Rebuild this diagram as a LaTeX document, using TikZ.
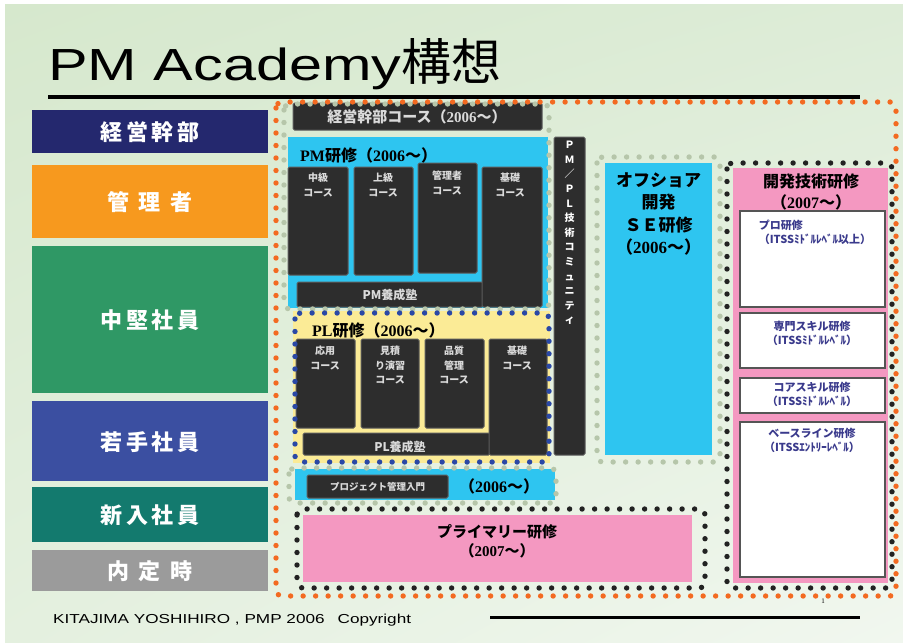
\documentclass[tikz,border=0pt]{standalone}
\usepackage{fontspec}
\usetikzlibrary{shadings}
\setmainfont{Liberation Serif}
\newfontfamily\cjk{Noto Sans CJK JP}
\newfontfamily\titlefont[FakeStretch=1.32]{Liberation Sans}
\newcommand\fsz[2]{\fontsize{#1}{#2}\selectfont}
\newcommand\since[1]{{\cjk （}{\rmfamily #1}{\cjk ～）}}

\definecolor{bgtl}{HTML}{D6E8CD}
\definecolor{bgtr}{HTML}{DDECD7}
\definecolor{bgbl}{HTML}{E4F0DF}
\definecolor{bgbr}{HTML}{F1F7EF}
\definecolor{rnavy}{HTML}{24286E}
\definecolor{rorange}{HTML}{F7991E}
\definecolor{rgreen}{HTML}{2F9865}
\definecolor{rblue}{HTML}{3B4FA1}
\definecolor{rteal}{HTML}{137A6E}
\definecolor{rgrey}{HTML}{9B9B9B}
\definecolor{coursedark}{HTML}{2D2D2D}
\definecolor{courseedge}{HTML}{5C5C5C}
\definecolor{coursetext}{HTML}{DADADA}
\definecolor{skyfill}{HTML}{2EC5F0}
\definecolor{lemonfill}{HTML}{FBEB96}
\definecolor{pinkfill}{HTML}{F498C1}
\definecolor{boxedge}{HTML}{555555}
\definecolor{itssblue}{HTML}{3A3A8C}
\definecolor{orangedot}{HTML}{F36A21}
\definecolor{greydot}{HTML}{B6C6AA}
\definecolor{bluedot}{HTML}{2A48A6}
\definecolor{blackdot}{HTML}{222222}

\begin{document}
\begin{tikzpicture}[x=1pt,y=-1pt,
    rank/.style={font=\cjk\bfseries\fsz{22}{26}, text=white},
    course/.style={fill=coursedark, draw=courseedge, line width=1pt, rounded corners=1.5pt},
    coursetxt/.style={font=\cjk\bfseries\fsz{10}{14.5}, text=coursetext, align=center, anchor=north, inner sep=0pt},
    heading/.style={font=\cjk\bfseries\fsz{16}{21}, align=center, inner sep=0pt},
    itss/.style={font=\cjk\bfseries\fsz{11}{14}, text=itssblue, align=center, inner sep=0pt},
    whitebox/.style={fill=white, draw=boxedge, line width=1.5pt},
    dotframe/.style={line width=5.4pt, line cap=round, dash pattern=on 0pt off 12.5pt, rounded corners=6pt}]
    \useasboundingbox (0,0) rectangle (903,643);
    \fill[white] (0,0) rectangle (903,643);
    \shade[upper left=bgtl, upper right=bgtr, lower left=bgbl, lower right=bgbr] (5,4) rectangle (903,643);

    % title and footer
    \node[anchor=base west, inner sep=0pt, font=\titlefont\fsz{45}{50}] (title) at (48,80)
        {PM Academy{\cjk\fsz{50}{55}構想}};
    \draw[line width=3.5pt] (48,97) -- (860,97);
    \node[anchor=base west, inner sep=0pt, font=\titlefont\fsz{13}{15}] (credit) at (53,623)
        {KITAJIMA YOSHIHIRO , PMP 2006\hspace{13pt}Copyright};
    \draw[line width=3pt] (490,617) -- (860,617);
    \node[font=\fsz{7}{8}] (page) at (823,601) {1};

    % ranks
    \fill[rnavy] (32,110) rectangle (268,153);
    \fill[rorange] (32,165) rectangle (268,238);
    \fill[rgreen] (32,246) rectangle (268,393);
    \fill[rblue] (32,401) rectangle (268,481);
    \fill[rteal] (32,487) rectangle (268,542);
    \fill[rgrey] (32,550) rectangle (268,591);
    \node[rank] (exec) at (150,132) {経\,営\,幹\,部};
    \node[rank] (mgr) at (150,202) {管\hspace{0.45em}理\hspace{0.45em}者};
    \node[rank] (mid) at (150,320) {中\,堅\,社\,員};
    \node[rank] (young) at (150,442) {若\,手\,社\,員};
    \node[rank] (fresh) at (150,515) {新\,入\,社\,員};
    \node[rank] (offer) at (150,571) {内\hspace{0.45em}定\hspace{0.45em}時};

    % coloured areas
    \fill[skyfill] (288,137) rectangle (548,308);
    \fill[lemonfill] (293,311) rectangle (550,463);
    \fill[skyfill] (295,469) rectangle (555,500);
    \fill[skyfill] (605,163) rectangle (712,455);
    \fill[pinkfill] (303,515) rectangle (692,582);
    \fill[pinkfill] (733,168) rectangle (888,583);
    \draw[whitebox] (740,211) rectangle (885,307);
    \draw[whitebox] (740,313) rectangle (885,368);
    \draw[whitebox] (740,378) rectangle (885,413);
    \draw[whitebox] (740,422) rectangle (885,577);

    % dark course blocks
    \draw[course] (293,103) rectangle (542,130);
    \draw[course] (288,167) rectangle (348,275);
    \draw[course] (354,167) rectangle (413,275);
    \draw[course] (418,163) rectangle (477,273);
    \draw[course] (297,282) rectangle (483,307);
    \draw[course] (482,167) rectangle (542,307);
    \draw[course] (296,339) rectangle (355,428);
    \draw[course] (361,339) rectangle (419,428);
    \draw[course] (425,339) rectangle (484,428);
    \draw[course] (303,433) rectangle (490,455);
    \draw[course] (489,339) rectangle (547,455);
    \draw[course] (307,475) rectangle (448,498);
    \draw[course] (554,137) rectangle (585,455);

    % dotted frames
    \draw[dotframe, orangedot] (276,102) rectangle (896,596);
    \draw[dotframe, greydot] (284,104) rectangle (549,309);
    \draw[dotframe, greydot] (289,468) rectangle (556,503);
    \draw[dotframe, greydot] (597,157) rectangle (720,462);
    \draw[dotframe, bluedot] (295,313) rectangle (549,462);
    \draw[dotframe, blackdot] (297,509) rectangle (705,588);
    \draw[dotframe, blackdot] (727,163) rectangle (892,588);

    % texts
    \node[heading, font=\cjk\bfseries\fsz{15}{18}, text=coursetext] (topc) at (417,117) {経営幹部コース\since{2006}};
    \node[heading, anchor=west] (pmh) at (300,155) {{\rmfamily PM}研修\since{2006}};
    \node[coursetxt] (pm1) at (318,173) {中級\\コース};
    \node[coursetxt] (pm2) at (383,173) {上級\\コース};
    \node[coursetxt] (pm3) at (447,171) {管理者\\コース};
    \node[coursetxt] (pm4) at (510,173) {基礎\\コース};
    \node[coursetxt, font=\cjk\bfseries\fsz{12}{14}] (pmjuku) at (390,289) {PM養成塾};
    \node[heading, anchor=west] (plh) at (312,330) {{\rmfamily PL}研修\since{2006}};
    \node[coursetxt] (pl1) at (325,346) {応用\\コース};
    \node[coursetxt] (pl2) at (390,346) {見積\\り演習\\コース};
    \node[coursetxt] (pl3) at (454,346) {品質\\管理\\コース};
    \node[coursetxt] (pl4) at (517,346) {基礎\\コース};
    \node[coursetxt, font=\cjk\bfseries\fsz{12}{14}] (pljuku) at (400,441) {PL養成塾};
    \node[coursetxt, font=\cjk\bfseries\fsz{9.5}{11}, anchor=center] (intro) at (377.5,487) {プロジェクト管理入門};
    \node[heading] (introy) at (499,486) {\since{2006}};
    \node[coursetxt, font=\cjk\bfseries\fsz{10}{14.6}, text=white] (comm) at (569.5,141)
        {Ｐ\\Ｍ\\／\\Ｐ\\Ｌ\\技\\術\\コ\\ミ\\ュ\\ニ\\テ\\ィ};
    \node[heading, font=\cjk\bfseries\fsz{17}{22.5}, anchor=north] (se) at (658.5,172)
        {オフショア\\開発\\ＳＥ研修\\\since{2006}};
    \node[heading, anchor=north] (dev) at (811,174) {開発技術研修\\\since{2007}};
    \node[itss, align=left] (pro) at (815,232) {プロ研修\\（ITSSﾐﾄﾞﾙﾚﾍﾞﾙ以上）};
    \node[itss] (spec) at (812,333) {専門スキル研修\\（ITSSﾐﾄﾞﾙﾚﾍﾞﾙ）};
    \node[itss] (core) at (812,394) {コアスキル研修\\（ITSSﾐﾄﾞﾙﾚﾍﾞﾙ）};
    \node[itss] (base) at (812,440) {ベースライン研修\\（ITSSｴﾝﾄﾘｰﾚﾍﾞﾙ）};
    \node[heading, font=\cjk\bfseries\fsz{15}{19}] (prim) at (497,541) {プライマリー研修\\\since{2007}};
\end{tikzpicture}
\end{document}
